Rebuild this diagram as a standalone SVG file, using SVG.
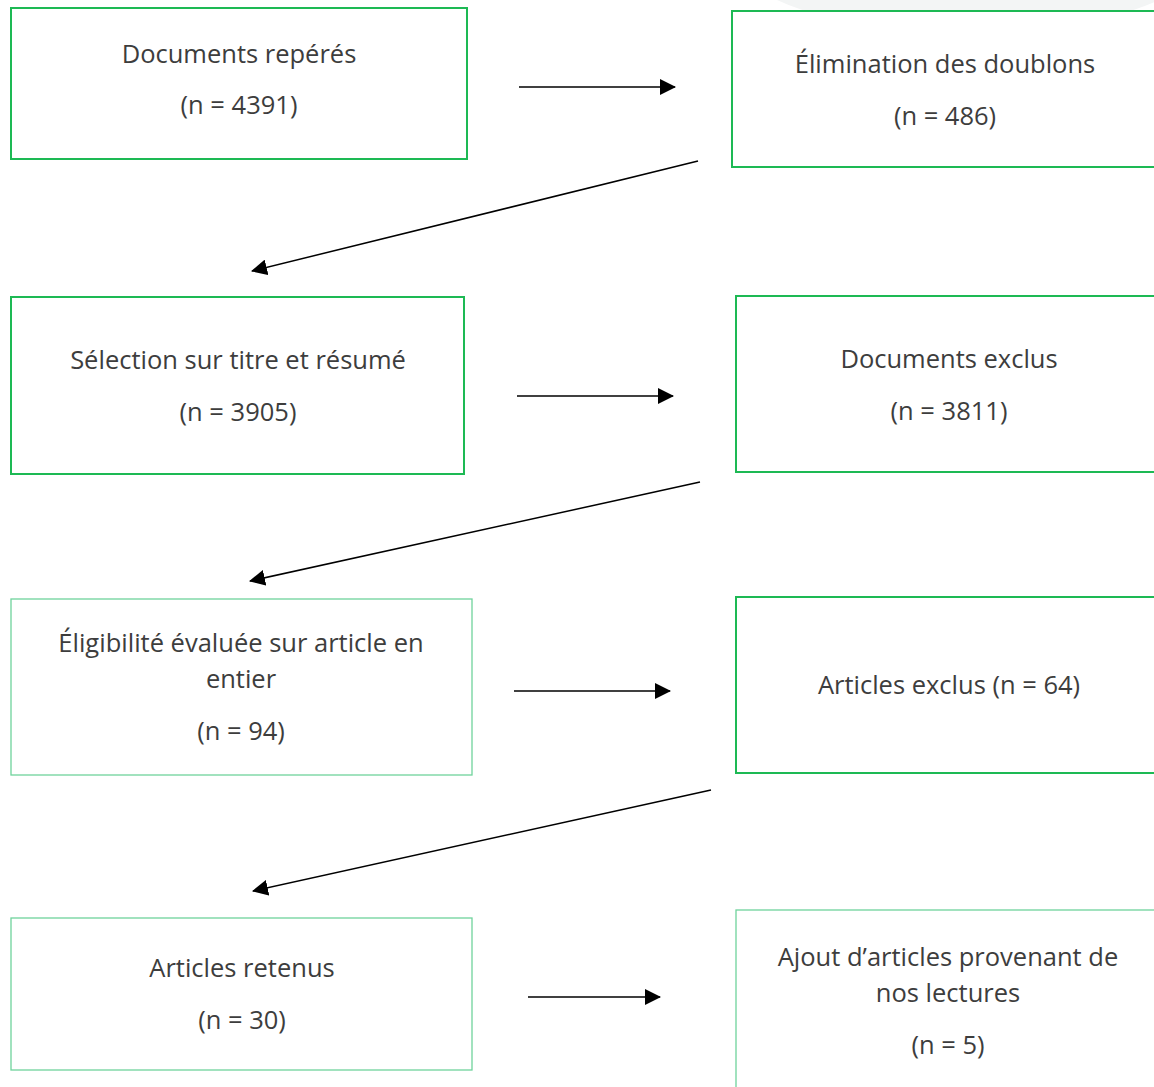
<svg xmlns="http://www.w3.org/2000/svg" width="1154" height="1087" viewBox="0 0 1154 1087">
<style>
.box{fill:#fff;stroke:#1db954;stroke-width:2}
.thin{fill:#fff;stroke:#6fd39c;stroke-width:1.3}
.t{font-family:"Open Sans","Noto Sans","Liberation Sans",sans-serif;font-size:25.5px;fill:#3d3d3d;text-anchor:middle}
.c{stroke:#000;stroke-width:1.5;fill:none}
</style>
<defs>
<marker id="ah" viewBox="0 0 16 16" refX="15" refY="8" markerWidth="16" markerHeight="16" markerUnits="userSpaceOnUse" orient="auto">
<path d="M0,0 L16,8 L0,16 Z" fill="#000"/>
</marker>
</defs>
<rect width="1154" height="1087" fill="#fff"/>
<ellipse cx="968" cy="-47" rx="236" ry="80" fill="#f3f5f5"/>
<g id="n1"><rect class="box" x="11" y="8" width="456" height="151"/><text class="t" x="239" y="63">Documents repérés</text><text class="t" x="239" y="114">(n = 4391)</text></g>
<g id="n2"><rect class="box" x="732" y="11" width="430" height="156"/><text class="t" x="945" y="73">Élimination des doublons</text><text class="t" x="945" y="125">(n = 486)</text></g>
<g id="n3"><rect class="box" x="11" y="297" width="453" height="177"/><text class="t" x="238" y="369">Sélection sur titre et résumé</text><text class="t" x="238" y="421">(n = 3905)</text></g>
<g id="n4"><rect class="box" x="736" y="296" width="426" height="176"/><text class="t" x="949" y="368">Documents exclus</text><text class="t" x="949" y="420">(n = 3811)</text></g>
<g id="n5"><rect class="thin" x="11" y="599" width="461" height="176"/><text class="t" x="241" y="652">Éligibilité évaluée sur article en</text><text class="t" x="241" y="688">entier</text><text class="t" x="241" y="740">(n = 94)</text></g>
<g id="n6"><rect class="box" x="736" y="597" width="426" height="176"/><text class="t" x="949" y="694">Articles exclus (n = 64)</text></g>
<g id="n7"><rect class="thin" x="11" y="918" width="461" height="152"/><text class="t" x="242" y="977">Articles retenus</text><text class="t" x="242" y="1029">(n = 30)</text></g>
<g id="n8"><rect class="thin" x="736" y="910" width="426" height="190"/><text class="t" x="948" y="966">Ajout d’articles provenant de</text><text class="t" x="948" y="1002">nos lectures</text><text class="t" x="948" y="1054">(n = 5)</text></g>
<g id="connectors">
<line class="c" x1="519" y1="87" x2="675" y2="87" marker-end="url(#ah)"/>
<line class="c" x1="698" y1="161" x2="252" y2="271" marker-end="url(#ah)"/>
<line class="c" x1="517" y1="396" x2="673" y2="396" marker-end="url(#ah)"/>
<line class="c" x1="700" y1="482" x2="250" y2="581" marker-end="url(#ah)"/>
<line class="c" x1="514" y1="691" x2="670" y2="691" marker-end="url(#ah)"/>
<line class="c" x1="711" y1="790" x2="253" y2="891" marker-end="url(#ah)"/>
<line class="c" x1="528" y1="997" x2="660" y2="997" marker-end="url(#ah)"/>
</g>
</svg>
